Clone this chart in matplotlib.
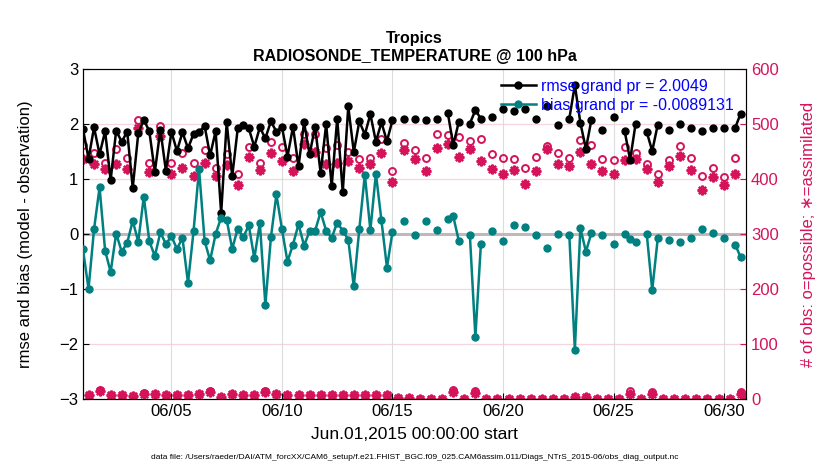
import numpy as np
import pandas as pd
import matplotlib
matplotlib.use("Agg")
import matplotlib.pyplot as plt
import matplotlib.dates as mdates

plt.rcParams['font.family'] = ['Liberation Sans', 'DejaVu Sans']

nan = np.nan

# ---- 6-hourly bins, Jun 1 00Z .. Jul 1 00Z ----
bin_start = "2015-06-01 00:00"
n_bins = 121
times = pd.date_range(bin_start, periods=n_bins, freq="6h")

# rmse (prior) per bin
rmse = [1.91, 1.37, 1.94, 1.45, 1.87, 0.98, 1.88, 1.68, 1.86, 0.84,
        1.83, 2.08, 1.87, 1.13, 1.90, 1.15, 1.86, 1.51, 1.85, 1.56,
        1.82, 1.85, 1.97, 1.43, 1.87, 0.38, 2.03, 1.05, 1.92, 1.98,
        1.92, 1.59, 1.94, 1.74, 2.05, 1.86, 1.95, 1.41, 1.95, 1.23,
        2.03, 1.45, 1.95, 1.11, 2.00, 0.87, 2.10, 0.76, 2.32, 1.49,
        2.05, 1.81, 2.18, 1.68, 2.03, 1.69, 2.07, nan, 2.10, nan,
        2.10, nan, 2.08, nan, 2.10, nan, 2.21, 1.62, 2.04, nan,
        2.01, 2.25, 2.10, nan, 2.12, nan, 2.28, nan, 2.23, nan,
        2.28, nan, 2.10, nan, 2.32, nan, 1.98, nan, 2.10, 2.71,
        2.02, 1.55, 2.08, nan, 1.90, nan, 2.12, nan, 1.88, 1.35,
        2.01, nan, 1.86, 1.51, 1.99, nan, 1.90, nan, 2.00, nan,
        1.93, nan, 1.87, nan, 1.93, nan, 1.93, nan, 1.93, 2.19,
        nan]

# bias (prior) per bin
bias = [-0.28, -1.00, 0.09, 0.85, -0.30, -0.69, 0.01, -0.32, -0.16, 0.24,
        -0.14, 0.68, -0.13, -0.40, 0.03, -0.18, -0.04, -0.27, -0.07, -0.89,
        0.05, 1.18, -0.12, -0.48, 0.00, 0.30, 0.26, -0.27, 0.10, -0.06,
        0.16, -0.44, 0.20, -1.29, -0.06, 0.72, 0.09, -0.50, -0.19, 0.18,
        -0.21, 0.05, 0.06, 0.40, 0.06, -0.07, 0.21, 0.06, -0.10, -0.95,
        0.09, 1.08, 0.07, 1.10, 0.25, -0.61, 0.04, nan, 0.23, nan,
        -0.02, nan, 0.23, nan, 0.07, nan, 0.27, 0.32, -0.12, nan,
        -0.01, -1.87, -0.18, nan, 0.06, nan, -0.12, nan, 0.17, nan,
        0.12, nan, -0.02, nan, -0.25, nan, 0.01, nan, -0.02, -2.10,
        0.11, -0.32, 0.02, nan, -0.02, nan, -0.18, nan, 0.01, -0.09,
        -0.14, nan, 0.01, -1.02, -0.08, nan, -0.11, nan, -0.15, nan,
        -0.07, nan, 0.09, nan, 0.02, nan, -0.07, nan, -0.19, -0.42,
        nan]

# number of obs possible (o)
nposs = [462, 8, 447, 16, 430, 7, 454, 8, 438, 5,
         508, 11, 430, 10, 496, 7, 430, 8, 447, 8,
         430, 10, 453, 15, 421, 4, 445, 10, 410, 8,
         458, 8, 430, 15, 467, 9, 458, 7, 438, 7,
         482, 7, 482, 8, 456, 7, 462, 8, 450, 8,
         436, 8, 439, 8, 473, 8, 415, 2, 466, 2,
         453, 0, 438, 0, 482, 0, 480, 17, 476, 0,
         469, 15, 472, 0, 445, 0, 439, 0, 436, 0,
         421, 0, 441, 0, 460, 0, 448, 0, 439, 4,
         471, 4, 462, 0, 436, 0, 435, 0, 458, 14,
         448, 0, 427, 12, 409, 0, 435, 0, 460, 0,
         438, 0, 405, 0, 421, 0, 403, 0, 438, 12,
         0]

# number of obs assimilated (*)
nused = [436, 8, 427, 14, 419, 7, 427, 8, 419, 5,
         493, 10, 412, 10, 478, 7, 410, 8, 421, 8,
         405, 10, 430, 13, 405, 4, 425, 10, 390, 8,
         441, 8, 416, 13, 447, 9, 432, 7, 415, 7,
         464, 7, 450, 8, 428, 7, 430, 8, 433, 8,
         421, 8, 428, 8, 448, 8, 395, 2, 453, 2,
         436, 0, 415, 0, 456, 0, 463, 12, 441, 0,
         454, 11, 433, 0, 418, 0, 410, 0, 416, 0,
         391, 0, 415, 0, 454, 0, 428, 0, 424, 4,
         450, 4, 428, 0, 415, 0, 410, 0, 435, 10,
         436, 0, 419, 9, 395, 0, 424, 0, 442, 0,
         416, 0, 380, 0, 404, 0, 389, 0, 410, 9,
         0]

rmse_label = "rmse grand pr = 2.0049"
bias_label = "bias grand pr = -0.0089131"

TEAL = "#008080"
CRIMSON = "#D6135A"

fig = plt.figure(figsize=(8.3, 4.7), dpi=100)
ax = fig.add_axes([0.1, 0.151, 0.799, 0.702])

# counts on the right axis (drawn underneath rmse/bias)
ax2 = ax.twinx()
ax2.plot(times, nposs, "o", mfc="none", mec=CRIMSON, mew=1.4, ms=5, ls="none")
ax2.plot(times, nused, marker=(8, 2, 0), color=CRIMSON, mec=CRIMSON, mew=1.7,
         ms=7, ls="none")
ax2.set_xlim(times[0], times[-1])
ax2.set_ylim(0, 600)
ax2.set_yticks(range(0, 601, 100))
ax2.tick_params(direction="in", labelsize=12, colors=CRIMSON, length=4)
ax2.spines["right"].set_color(CRIMSON)
ax2.set_ylabel("# of obs: o=possible; \u2217=assimilated", fontsize=12,
               color=CRIMSON, labelpad=16)
for v in [100, 200, 300, 400, 500]:
    ax2.axhline(v, color="#f6d5df", lw=0.9, zorder=0)
for d in pd.date_range("2015-06-05", "2015-06-30", freq="5D"):
    ax2.axvline(d, color="#dcdcdc", lw=0.8, zorder=0)
ax2.axhline(300, color="#c4b7bb", lw=2.2, zorder=0.5)

ax.set_zorder(ax2.get_zorder() + 1)
ax.patch.set_visible(False)

ax.plot(times, rmse, "-o", color="black", lw=1.8, ms=5, label=rmse_label, zorder=3)
ax.plot(times, bias, "-o", color=TEAL, lw=1.8, ms=5, label=bias_label, zorder=3)

ax.set_xlim(times[0], times[-1])
ax.set_ylim(-3, 3)
ax.set_yticks(range(-3, 4))
ax.xaxis.set_major_locator(mdates.DayLocator(bymonthday=[5, 10, 15, 20, 25, 30]))
ax.xaxis.set_major_formatter(mdates.DateFormatter("%m/%d"))
ax.tick_params(direction="in", labelsize=12, length=4)
ax.set_xlabel("Jun.01,2015 00:00:00 start", fontsize=12.5, labelpad=6)
ax.set_ylabel("rmse and bias (model - observation)", fontsize=12, labelpad=19)
ax.set_title("Tropics\nRADIOSONDE_TEMPERATURE @ 100 hPa", fontsize=11.5,
             fontweight="bold", pad=6, linespacing=1.25)

leg = ax.legend(loc="upper right", bbox_to_anchor=(0.995, 1.0), frameon=False,
                fontsize=11.5, handlelength=2.2, handletextpad=0.3,
                borderaxespad=0.2, labelspacing=0.25)
for t in leg.get_texts():
    t.set_color("blue")

fig.text(0.5, 0.026,
         "data file: /Users/raeder/DAI/ATM_forcXX/CAM6_setup/f.e21.FHIST_BGC.f09_025."
         "CAM6assim.011/Diags_NTrS_2015-06/obs_diag_output.nc",
         ha="center", va="center", fontsize=6)

fig.savefig("out.png", dpi=100)
